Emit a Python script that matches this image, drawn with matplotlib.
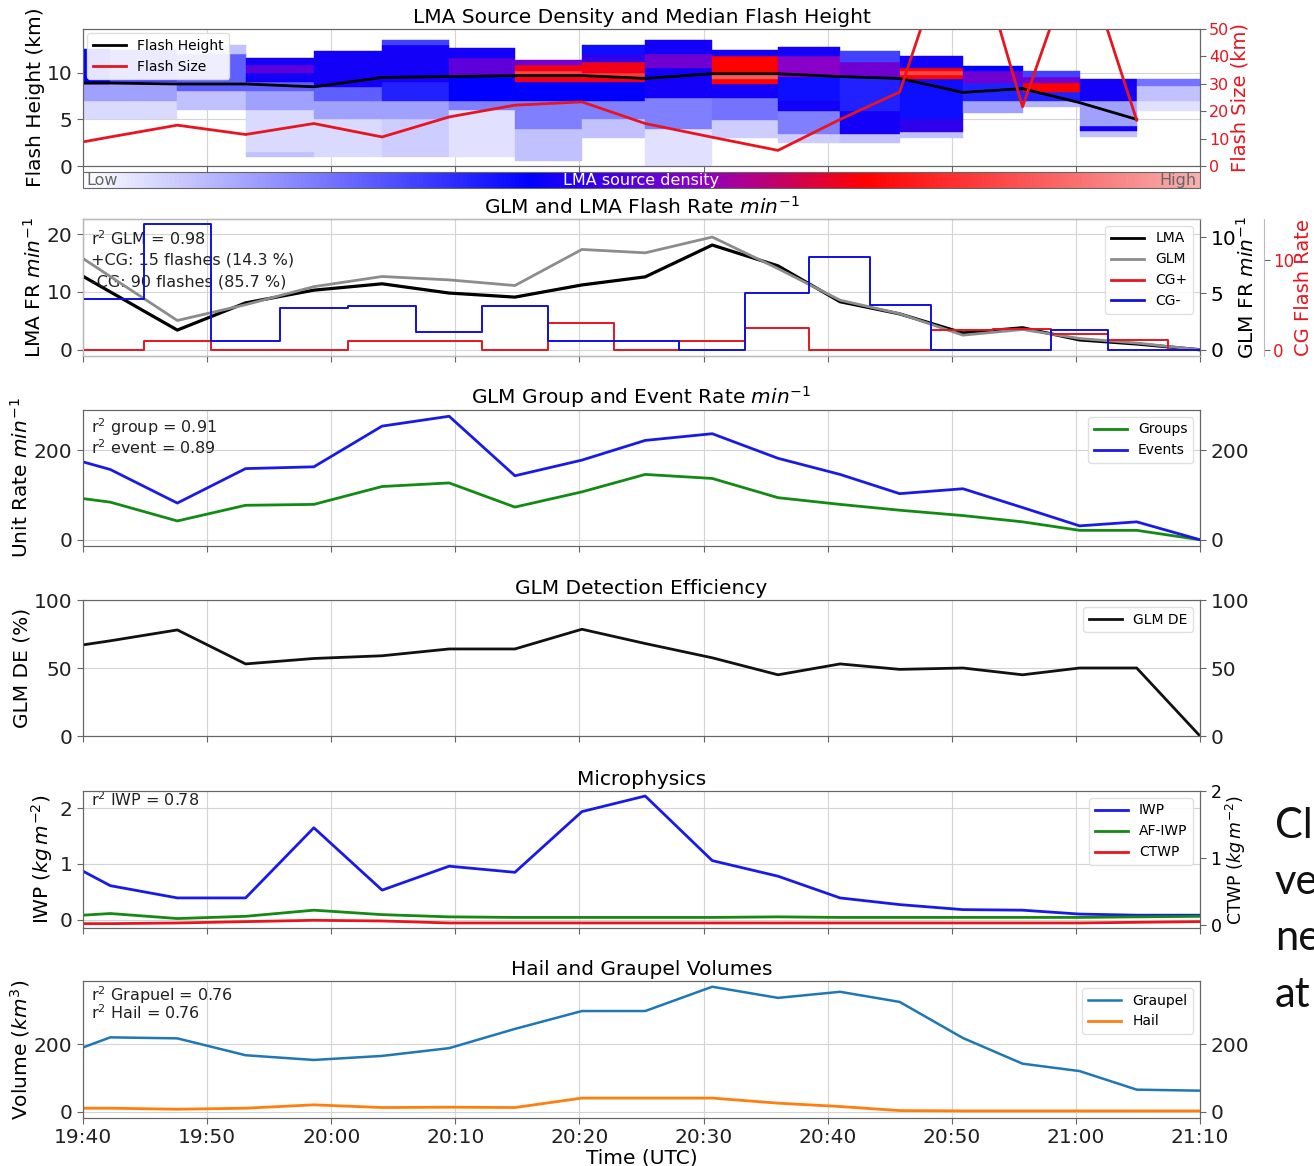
import matplotlib
matplotlib.use("Agg")
import matplotlib.pyplot as plt
from matplotlib.colors import LinearSegmentedColormap, Normalize
from matplotlib.colorbar import ColorbarBase
from matplotlib.lines import Line2D

plt.rcParams['font.family'] = ['DejaVu Sans']
plt.rcParams['mathtext.fontset'] = 'dejavusans'

# ---------------- data ----------------
# sample times, minutes after 19:40 UTC
minutes = [0, 2.2, 7.6, 13.1, 18.6, 24.1, 29.5, 34.8, 40.2, 45.3, 50.7, 56.0,
           61.0, 65.8, 70.9, 75.7, 80.3, 84.9, 90.0]
tick_minutes = [0, 10, 20, 30, 40, 50, 60, 70, 80, 90]
tick_labels = ["19:40", "19:50", "20:00", "20:10", "20:20", "20:30",
               "20:40", "20:50", "21:00", "21:10"]

# panel 1 (up to 21:05)
flash_height_km = [8.9, 8.9, 8.8, 8.8, 8.5, 9.5, 9.6, 9.7, 9.7, 9.4, 9.9, 9.9,
                   9.6, 9.4, 7.9, 8.3, 6.8, 5.0]
flash_size_km = [8.8, 10.6, 14.9, 11.5, 15.5, 10.6, 17.9, 22.2, 23.4, 15.5,
                 10.5, 5.7, 17.0, 27.0, 96.0, 21.6, 81.0, 16.7]
# LMA source density per time column: (bottom km, top km, relative level)
density_cols = [
    [(5, 7, 0.06), (7, 8.8, 0.15), (8.8, 12.6, 0.40)],
    [(5, 7, 0.06), (7, 9, 0.15), (9, 12.5, 0.30)],
    [(6, 8, 0.10), (8, 12, 0.25), (12, 13, 0.10)],
    [(1, 1.5, 0.10), (1.5, 6, 0.06), (6, 8, 0.15), (8, 9, 0.25), (9, 10, 0.42),
     (10, 10.8, 0.50), (10.8, 11.6, 0.42)],
    [(1, 5, 0.06), (5, 7, 0.15), (7, 8.5, 0.25), (8.5, 12.3, 0.42)],
    [(1, 5, 0.08), (5, 7, 0.15), (7, 9, 0.35), (9, 13, 0.42), (13, 13.5, 0.30)],
    [(1, 6, 0.05), (6, 7, 0.20), (7, 9.5, 0.40), (9.5, 11.6, 0.50), (11.6, 12.7, 0.42)],
    [(0.5, 4, 0.10), (4, 7, 0.20), (7, 9, 0.40), (9, 9.7, 0.68), (9.7, 10.2, 0.82),
     (10.2, 10.8, 0.68), (10.8, 11.4, 0.52)],
    [(3, 5, 0.10), (5, 7, 0.20), (7, 9, 0.40), (9, 9.5, 0.68), (9.5, 10, 0.80),
     (10, 11.2, 0.68), (11.2, 12, 0.45), (12, 13, 0.38)],
    [(0, 4, 0.05), (4, 7.3, 0.20), (7.3, 10.5, 0.42), (10.5, 12, 0.52), (12, 13.5, 0.42)],
    [(3, 4.9, 0.08), (4.9, 7.3, 0.22), (7.3, 8.8, 0.42), (8.8, 9.3, 0.70),
     (9.3, 10, 0.85), (10, 11.8, 0.70), (11.8, 12.5, 0.42)],
    [(2.5, 3.4, 0.08), (3.4, 5.9, 0.20), (5.9, 7, 0.42), (7, 9.5, 0.38),
     (9.5, 11.8, 0.55), (11.8, 12.8, 0.42)],
    [(2.5, 3.4, 0.10), (3.4, 5.9, 0.42), (5.9, 9.5, 0.35), (9.5, 11.2, 0.52),
     (11.2, 12.3, 0.30)],
    [(3, 3.6, 0.10), (3.6, 5, 0.45), (5, 7, 0.38), (7, 9.3, 0.38), (9.3, 9.8, 0.70),
     (9.8, 10.2, 0.82), (10.2, 10.5, 0.70), (10.5, 11.8, 0.42)],
    [(5.7, 7, 0.15), (7, 8.9, 0.35), (8.9, 10.2, 0.52), (10.2, 10.7, 0.40)],
    [(6.3, 7, 0.12), (7, 7.9, 0.35), (7.9, 8.9, 0.70), (8.9, 9.5, 0.52), (9.5, 10.2, 0.30)],
    [(3.1, 3.8, 0.10), (3.8, 4.3, 0.42), (4.3, 7, 0.15), (7, 9.3, 0.42)],
    [(5.9, 7, 0.05), (7, 8.6, 0.10), (8.6, 9.3, 0.22)],
]

# panel 2
lma_rate = [12.7, 10.0, 3.4, 8.1, 10.3, 11.4, 9.8, 9.1, 11.2, 12.6, 18.1, 14.5,
            8.3, 6.2, 2.9, 3.8, 1.7, 1.0, 0.0]
glm_rate = [8.1, 6.5, 2.6, 4.0, 5.6, 6.5, 6.2, 5.7, 8.9, 8.6, 10.0, 7.2,
            4.4, 3.2, 1.3, 1.8, 1.0, 0.6, 0.0]
cg_pos_rate = [0, 0, 1.0, 0, 0, 1.0, 1.0, 0, 3.0, 0, 1.0, 2.4,
               0, 0, 2.2, 2.3, 1.8, 1.1, 0]
cg_neg_rate = [5.7, 5.7, 14.0, 1.0, 4.7, 4.9, 2.0, 4.9, 1.0, 1.0, 0, 6.3,
               10.4, 5.0, 0, 0, 2.2, 0, 0]

# panel 3
glm_groups = [92, 84, 42, 77, 79, 119, 127, 73, 107, 146, 137, 94,
              79, 66, 54, 40, 21, 21, 0]
glm_events = [174, 157, 82, 159, 163, 254, 276, 143, 178, 222, 237, 182,
              146, 103, 114, 72, 31, 40, 0]

# panel 4
glm_de = [67, 70, 78, 53, 57, 59, 64, 64, 78.5, 68, 57.5, 45, 53, 49, 50, 45,
          50, 50, 0]

# panel 5
iwp = [0.87, 0.61, 0.39, 0.39, 1.65, 0.53, 0.96, 0.85, 1.94, 2.22, 1.06, 0.78,
       0.39, 0.27, 0.18, 0.17, 0.10, 0.08, 0.08]
af_iwp = [0.08, 0.11, 0.02, 0.06, 0.17, 0.09, 0.05, 0.04, 0.04, 0.04, 0.04, 0.05,
          0.04, 0.04, 0.04, 0.04, 0.04, 0.05, 0.06]
ctwp = [0.02, 0.02, 0.03, 0.05, 0.07, 0.06, 0.03, 0.03, 0.03, 0.03, 0.03, 0.03,
        0.03, 0.03, 0.03, 0.03, 0.03, 0.04, 0.05]

# panel 6
graupel_vol = [190, 220, 217, 167, 153, 165, 188, 245, 298, 298, 370, 337,
               355, 325, 218, 142, 120, 65, 62]
hail_vol = [10, 10, 7, 10, 20, 12, 13, 12, 40, 40, 40, 25, 15, 3, 2, 2, 2, 2, 2]

# ---------------- layout ----------------
W, H = 1314, 1166
fig = plt.figure(figsize=(W / 100, H / 100), dpi=100)


def rect(top, bottom, left=83, right=1200):
    return [left / W, 1 - bottom / H, (right - left) / W, (bottom - top) / H]


SPINE = '#666666'
GRID = '#d4d4d4'
TICK = 14.5
LABEL = 14.5
TITLE = 14.5
NOTE = 11.5
LEG = dict(fontsize=10, framealpha=0.9, edgecolor='#dddddd', handlelength=2.4)


def style(ax, labels=False):
    ax.set_xlim(0, 90)
    ax.set_xticks(tick_minutes)
    if labels:
        ax.set_xticklabels(tick_labels)
    else:
        ax.set_xticklabels([])
    ax.grid(True, color=GRID, lw=0.8)
    ax.set_axisbelow(True)
    for s in ax.spines.values():
        s.set_color(SPINE)
    ax.tick_params(labelsize=TICK, color=SPINE, labelcolor='#222222', length=4)


def lab_left(ax, text, xc, **kw):
    ax.set_ylabel(text, fontsize=LABEL, **kw)
    ax.yaxis.set_label_coords((xc + 10 - 83) / 1117, 0.5)


def lab_right(ax, text, xc, fs=LABEL, **kw):
    ax.set_ylabel(text, fontsize=fs, **kw)
    ax.yaxis.set_label_coords((xc - 10 - 83) / 1117, 0.5)


def right_twin(ax, ticks, fs=TICK, color='#222222'):
    t = ax.twinx()
    t.set_ylim(ax.get_ylim())
    t.set_yticks(ticks)
    t.tick_params(labelsize=fs, color=SPINE, labelcolor=color, length=4)
    for s in t.spines.values():
        s.set_color(SPINE)
    return t


def note(ax, y, s):
    ax.text(0.007, y, s, transform=ax.transAxes, fontsize=NOTE, va='center',
            ha='left', color='#222222', zorder=5)


cmap = LinearSegmentedColormap.from_list(
    'lma', [(0.0, '#ffffff'), (0.40, '#0000ff'), (0.55, '#8a00c8'),
            (0.70, '#ff0000'), (1.0, '#f6b0b0')])
RED = '#e8141e'

# ---- panel 1 ----
ax1 = fig.add_axes(rect(29, 166))
style(ax1)
for k, col in enumerate(density_cols):
    x0 = minutes[k]
    w = minutes[k + 1] - minutes[k]
    for z0, z1, lev in col:
        c = cmap(lev)
        ax1.bar(x0, z1 - z0, width=w, bottom=z0, align='edge', color=c,
                edgecolor=c, linewidth=0.3, zorder=1)
ax1.plot(minutes[:len(flash_height_km)], flash_height_km, color='k', lw=2, zorder=3)
ax1.set_ylim(0, 14.7)
ax1.set_yticks([0, 5, 10])
ax1.set_title('LMA Source Density and Median Flash Height', fontsize=TITLE, pad=4)
lab_left(ax1, 'Flash Height (km)', 35)
ax1b = ax1.twinx()
ax1b.plot(minutes[:len(flash_size_km)], flash_size_km, color=RED, lw=2)
ax1b.set_ylim(0, 50)
ax1b.set_yticks([0, 10, 20, 30, 40, 50])
ax1b.tick_params(labelsize=11.5, colors=RED, length=4, pad=2.5)
ax1b.tick_params(color=SPINE)
for s in ax1b.spines.values():
    s.set_color(SPINE)
lab_right(ax1b, 'Flash Size (km)', 1241, fs=14, color=RED)
ax1b.legend([Line2D([], [], color='k', lw=2), Line2D([], [], color=RED, lw=2)],
            ['Flash Height', 'Flash Size'], loc='upper left', borderaxespad=0.3,
            **LEG)

# colorbar
cax = fig.add_axes(rect(172, 188))
cb = ColorbarBase(cax, cmap=cmap, norm=Normalize(0, 1), orientation='horizontal')
cb.set_ticks([])
cb.outline.set_edgecolor(SPINE)
cax.text(0.003, 0.45, 'Low', transform=cax.transAxes, ha='left', va='center',
         fontsize=11.5, color='#666666')
cax.text(0.997, 0.45, 'High', transform=cax.transAxes, ha='right', va='center',
         fontsize=11.5, color='#666666')
cax.text(0.5, 0.45, 'LMA source density', transform=cax.transAxes, ha='center',
         va='center', fontsize=11.5, color='white')

# ---- panel 2 ----
ax2 = fig.add_axes(rect(219, 356))
style(ax2)
ax2.plot(minutes, lma_rate, color='k', lw=2.3, zorder=3)
ax2.set_ylim(-1.08, 22.6)
ax2.set_yticks([0, 10, 20])
ax2.set_title('GLM and LMA Flash Rate $min^{-1}$', fontsize=TITLE, pad=4)
lab_left(ax2, 'LMA FR $min^{-1}$', 35)
note(ax2, 0.86, 'r$^2$ GLM = 0.98')
note(ax2, 0.70, '+CG: 15 flashes (14.3 %)')
note(ax2, 0.54, '-CG: 90 flashes (85.7 %)')
ax2g = ax2.twinx()
ax2g.plot(minutes, glm_rate, color='#8c8c8c', lw=2)
ax2g.set_ylim(-0.55, 11.6)
ax2g.set_yticks([0, 5, 10])
ax2g.tick_params(labelsize=TICK, color=SPINE, length=4)
for s in ax2g.spines.values():
    s.set_color(SPINE)
lab_right(ax2g, 'GLM FR $min^{-1}$', 1246)
ax2c = ax2.twinx()
ax2c.spines['right'].set_position(('axes', 1.057))
for s in ax2c.spines.values():
    s.set_color('#bbbbbb')
ax2c.step(minutes, cg_pos_rate, where='mid', color=RED, lw=1.4)
ax2c.step(minutes, cg_neg_rate, where='mid', color='#1010e0', lw=1.4)
ax2c.set_ylim(-0.7, 14.6)
ax2c.set_yticks([0, 10])
ax2c.tick_params(labelsize=12, colors=RED, length=4, pad=2.5)
ax2c.tick_params(color=SPINE)
lab_right(ax2c, 'CG Flash Rate', 1304, fs=14, color=RED)
ax2c.legend([Line2D([], [], color='k', lw=2), Line2D([], [], color='#8c8c8c', lw=2),
             Line2D([], [], color=RED, lw=2), Line2D([], [], color='#1010e0', lw=2)],
            ['LMA', 'GLM', 'CG+', 'CG-'], loc='upper right', **LEG)

# ---- panel 3 ----
ax3 = fig.add_axes(rect(410, 546))
style(ax3)
ax3.plot(minutes, glm_groups, color='#138a13', lw=2, label='Groups')
ax3.plot(minutes, glm_events, color='#1a1ae6', lw=2, label='Events')
ax3.set_ylim(-14, 290)
ax3.set_yticks([0, 200])
ax3.set_title('GLM Group and Event Rate $min^{-1}$', fontsize=TITLE, pad=4)
lab_left(ax3, 'Unit Rate $min^{-1}$', 22)
note(ax3, 0.875, 'r$^2$ group = 0.91')
note(ax3, 0.72, 'r$^2$ event = 0.89')
ax3.legend(loc='upper right', **LEG)
right_twin(ax3, [0, 200])

# ---- panel 4 ----
ax4 = fig.add_axes(rect(600, 736))
style(ax4)
ax4.plot(minutes, glm_de, color='#111111', lw=2, label='GLM DE')
ax4.set_ylim(0, 100)
ax4.set_yticks([0, 50, 100])
ax4.set_title('GLM Detection Efficiency', fontsize=TITLE, pad=4)
lab_left(ax4, 'GLM DE (%)', 22)
ax4.legend(loc='upper right', **LEG)
right_twin(ax4, [0, 50, 100])

# ---- panel 5 ----
ax5 = fig.add_axes(rect(791, 928))
style(ax5)
l1, = ax5.plot(minutes, iwp, color='#1a1ae6', lw=2)
l2, = ax5.plot(minutes, af_iwp, color='#138a13', lw=2)
ax5.set_ylim(-0.15, 2.31)
ax5.set_yticks([0, 1, 2])
ax5.set_title('Microphysics', fontsize=TITLE, pad=4)
lab_left(ax5, 'IWP $(kg\\,m^{-2})$', 45)
note(ax5, 0.934, 'r$^2$ IWP = 0.78')
ax5b = ax5.twinx()
l3, = ax5b.plot(minutes, ctwp, color=RED, lw=2)
ax5b.set_ylim(-0.045, 2.0)
ax5b.set_yticks([0, 1, 2])
ax5b.tick_params(labelsize=12.5, color=SPINE, length=4)
for s in ax5b.spines.values():
    s.set_color(SPINE)
lab_right(ax5b, 'CTWP $(kg\\,m^{-2})$', 1234, fs=12.5)
ax5b.legend([l1, l2, l3], ['IWP', 'AF-IWP', 'CTWP'], loc='upper right', **LEG)

# ---- panel 6 ----
ax6 = fig.add_axes(rect(981, 1118))
style(ax6, labels=True)
ax6.plot(minutes, graupel_vol, color='#1f77b4', lw=1.8, label='Graupel')
ax6.plot(minutes, hail_vol, color='#ff7f0e', lw=2, label='Hail')
ax6.set_ylim(-19, 387)
ax6.set_yticks([0, 200])
ax6.set_title('Hail and Graupel Volumes', fontsize=TITLE, pad=4)
lab_left(ax6, 'Volume $(km^3)$', 22)
ax6.set_xlabel('Time (UTC)', fontsize=LABEL, labelpad=1)
ax6.text(0.007, 0.84, 'r$^2$ Grapuel = 0.76\nr$^2$ Hail = 0.76',
         transform=ax6.transAxes, fontsize=NOTE, va='center', ha='left',
         color='#222222', linespacing=0.85, zorder=5)
ax6.legend(loc='upper right', **LEG)
right_twin(ax6, [0, 200])

# cut-off slide text on the right
for txt, yc in [('Cl', 826), ('ve', 882), ('ne', 938), ('at', 995)]:
    fig.text(1275 / W, 1 - yc / H, txt, fontsize=30, family='Lato',
             ha='left', va='center', color='#111111')

fig.savefig('out.png', dpi=100)
